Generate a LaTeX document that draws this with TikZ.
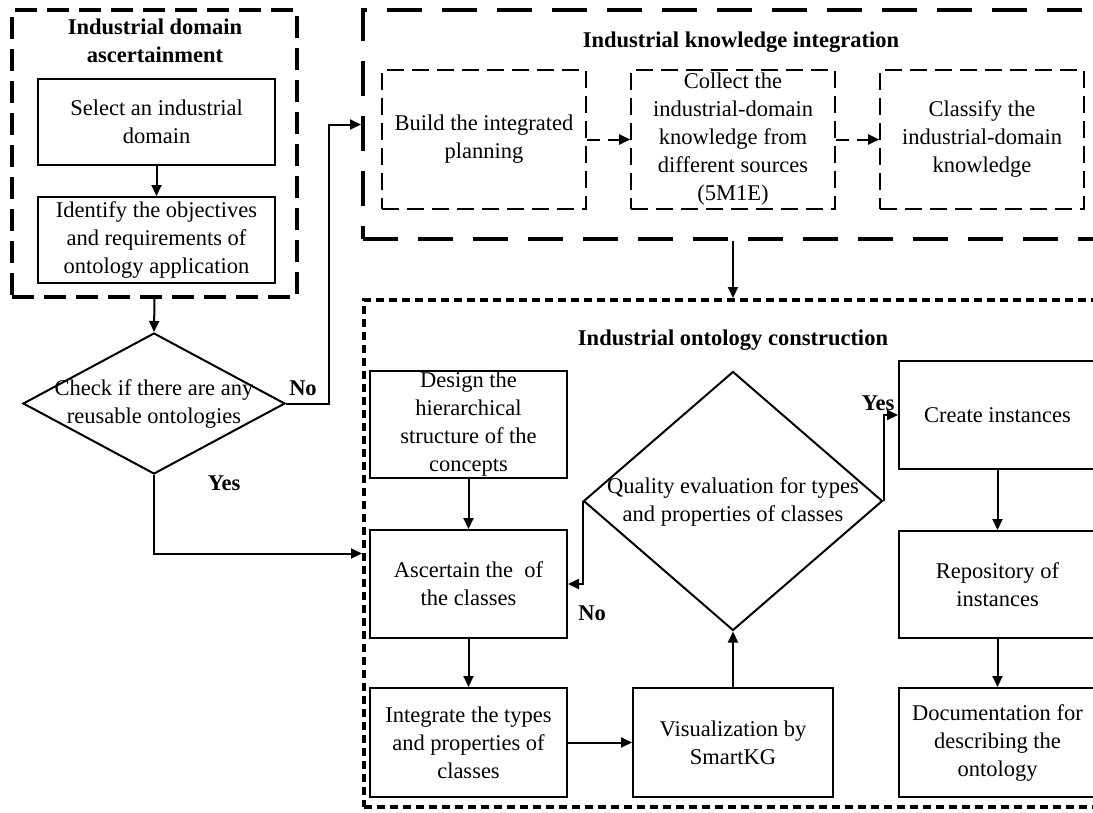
\documentclass[tikz,border=0pt]{standalone}
\usepackage{fontspec}
\setmainfont{Liberation Serif}
\usetikzlibrary{arrows.meta,shapes.geometric}

\begin{document}
\begin{tikzpicture}[x=1pt,y=-1pt,
  txt/.style={font=\fontsize{22.5}{28}\selectfont, align=center, inner sep=0pt},
  ttl/.style={txt, font=\fontsize{22.5}{28}\selectfont\bfseries},
  box/.style={txt, draw, line width=2pt},
  dbox/.style={txt, draw, line width=1.6pt, dash pattern=on 17pt off 8pt},
  dec/.style={draw, diamond, line width=2pt, inner sep=0pt},
  grpA/.style={draw, line width=4pt, dash pattern=on 22pt off 10pt, inner sep=0pt},
  grpB/.style={draw, line width=4pt, dash pattern=on 35pt off 20pt, inner sep=0pt},
  grpC/.style={draw, line width=4pt, dash pattern=on 8pt off 5pt, inner sep=0pt},
  arr/.style={line width=2pt, -{Triangle[length=11pt,width=10pt]}},
  darr/.style={arr, dash pattern=on 13pt off 8pt}
]
\useasboundingbox (0,0) rectangle (1093,812);
\clip (0,0) rectangle (1093,812);
\fill[white] (0,0) rectangle (1093,812);

% ---- industrial domain ascertainment ----
\node[grpA, minimum width=285pt, minimum height=287pt] (Aout) at (154.5,153.5) {};
\node[ttl] (Attl) at (155,41) {Industrial domain\\ascertainment};
\node[box, minimum width=237pt, minimum height=86pt] (A1) at (156.5,122) {Select an industrial\\domain};
\node[box, minimum width=237pt, minimum height=86pt] (A2) at (156.5,240) {Identify the objectives\\and requirements of\\ontology application};

% ---- reuse check ----
\node[dec, minimum width=262pt, minimum height=141pt] (d1) at (154,403.5) {};
\node[txt] (d1t) at (154,404) {Check if there are any\\reusable ontologies};
\node[ttl] (lno1) at (303,388) {No};
\node[ttl] (lyes1) at (224,483) {Yes};

% ---- industrial knowledge integration ----
\node[grpB, minimum width=740pt, minimum height=229pt] (Bout) at (733,124.5) {};
\node[ttl] (Bttl) at (741,42) {Industrial knowledge integration};
\node[dbox, minimum width=204pt, minimum height=139pt] (B1) at (484,139.5) {Build the integrated\\planning};
\node[dbox, minimum width=204pt, minimum height=139pt] (B2) at (733,139.5) {Collect the\\industrial-domain\\knowledge from\\different sources\\(5M1E)};
\node[dbox, minimum width=204pt, minimum height=139pt] (B3) at (982,139.5) {Classify the\\industrial-domain\\knowledge};

% ---- industrial ontology construction ----
\node[grpC, minimum width=738pt, minimum height=507pt] (Cout) at (733,553.5) {};
\node[ttl] (Cttl) at (733,340) {Industrial ontology construction};
\node[box, minimum width=197pt, minimum height=107pt] (C1) at (468.5,424.5) {Design the\\hierarchical\\structure of the\\concepts};
\node[box, minimum width=197pt, minimum height=108pt] (C2) at (468.5,584) {Ascertain the~ of\\the classes};
\node[box, minimum width=197pt, minimum height=109pt] (C3) at (468.5,742.5) {Integrate the types\\and properties of\\classes};
\node[box, minimum width=200pt, minimum height=109pt] (C4) at (733,742.5) {Visualization by\\SmartKG};
\node[dec, minimum width=299pt, minimum height=259pt] (Q) at (733,501) {};
\node[txt] (Qt) at (733,502) {Quality evaluation for types\\and properties of classes};
\node[ttl] (lno2) at (592,613) {No};
\node[ttl] (lyes2) at (878,403) {Yes};
\node[box, minimum width=197pt, minimum height=108pt] (C5) at (997.5,415) {Create instances};
\node[box, minimum width=197pt, minimum height=107pt] (C6) at (997.5,584.5) {Repository of\\instances};
\node[box, minimum width=197pt, minimum height=109pt] (C7) at (997.5,742.5) {Documentation for\\describing the\\ontology};

% ---- connectors ----
\coordinate (nobend) at (329,403.5);
\draw[arr] (A1.south) -- (A2.north);
\draw[arr] (Aout.south) -- (d1.north);
\draw[arr] (d1.east) -- (nobend) |- (Bout.west);
\draw[arr] (d1.south) |- (Cout.west);
\draw[darr] (B1.east) -- (B2.west);
\draw[darr] (B2.east) -- (B3.west);
\draw[arr] (Bout.south) -- (Cout.north);
\draw[arr] (C1.south) -- (C2.north);
\draw[arr] (C2.south) -- (C3.north);
\draw[arr] (C3.east) -- (C4.west);
\draw[arr] (C4.north) -- (Q.south);
\draw[arr] (Q.west) |- (C2.east);
\draw[arr] (Q.east) |- (C5.west);
\draw[arr] (C5.south) -- (C6.north);
\draw[arr] (C6.south) -- (C7.north);
\end{tikzpicture}
\end{document}
